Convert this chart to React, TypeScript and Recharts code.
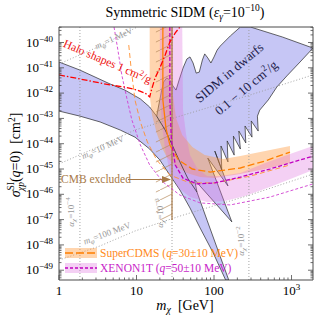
import React from 'react';
import { ComposedChart, Area, Line, XAxis, YAxis } from 'recharts';

type P = [number, number];
// All values are [log10(m_X / GeV), log10(sigma / cm^2)]

const dwarfRegion: P[] = [
  [0, -40.77], [0.27, -41.09], [0.66, -41.64], [0.85, -41.88], [1.05, -42.23], [1.17, -42.55], [1.26, -42.91],
  [1.29, -42.43], [1.32, -41.96], [1.35, -41.56], [1.39, -41.4], [1.43, -41.48], [1.47, -41.72], [1.51, -41.88],
  [1.55, -41.48], [1.6, -41.01], [1.65, -40.65], [1.69, -40.57], [1.73, -40.81], [1.77, -41.21], [1.81, -41.17],
  [1.85, -40.69], [1.88, -40.45], [1.92, -40.61], [1.96, -40.81], [2.0, -40.57], [2.04, -40.3], [2.08, -40.14],
  [2.21, -39.74], [2.34, -39.387],
  [2.47, -39.387], [2.88, -39.78], [3.277, -40.22],
  [3.11, -40.77], [2.94, -41.32], [2.81, -41.76], [2.7, -42.27], [2.59, -42.67], [2.56, -42.91],
  [2.57, -43.5], [2.48, -43.1], [2.49, -43.74], [2.4, -43.3], [2.41, -43.97], [2.32, -43.5], [2.34, -44.21],
  [2.25, -43.7], [2.26, -44.45], [2.17, -43.89], [2.18, -44.72], [2.09, -44.09], [2.1, -45.04], [2.01, -44.29],
  [2.18, -45.67], [1.92, -44.57],
  [2.23, -47.09], [1.75, -45.43],
  [1.78, -45.91], [1.91, -47.02], [2.04, -48.12], [2.19, -49.387],
  [2.15, -49.387], [1.99, -48.32], [1.82, -47.33], [1.69, -46.54], [1.56, -45.83], [1.43, -45.24], [1.3, -44.64],
  [1.17, -44.21], [0.98, -43.74], [0.79, -43.46], [0.53, -43.14], [0.27, -42.91], [0, -42.71],
  [0, -40.77],
];

const dwarfInnerEdge: P[] = [
  [1.26, -42.91], [1.37, -43.46], [1.46, -44.05], [1.56, -44.72], [1.66, -45.36], [1.78, -45.91],
];

const superCdmsBand: P[] = [
  [1.17, -39.387], [1.17, -42.08], [1.2, -42.87], [1.26, -43.58], [1.33, -44.17], [1.39, -44.53], [1.52, -44.92],
  [1.65, -45.16], [1.82, -45.32], [2.01, -45.36], [2.34, -45.2], [2.66, -45.0], [2.98, -44.76],
  [2.98, -44.09], [2.66, -44.29], [2.34, -44.49], [2.12, -44.6], [1.88, -44.45], [1.72, -44.13], [1.59, -43.66],
  [1.51, -42.98], [1.47, -42.08], [1.47, -39.387], [1.17, -39.387],
];

const xenonBand: P[] = [
  [1.3, -39.387], [1.3, -42.08], [1.33, -43.26], [1.37, -44.25], [1.43, -45.12], [1.54, -45.75], [1.69, -46.11],
  [1.91, -46.3], [2.14, -46.26], [2.4, -46.07], [2.72, -45.71], [3.05, -45.32], [3.277, -45.04],
  [3.277, -44.09], [2.98, -44.41], [2.66, -44.76], [2.34, -45.16], [2.08, -45.28], [1.91, -45.28], [1.78, -44.96],
  [1.69, -44.45], [1.64, -43.66], [1.6, -42.67], [1.59, -39.387], [1.3, -39.387],
];

const superCdmsCentralSolid: P[] = [[1.34, -39.387], [1.34, -42.27], [1.38, -43.38], [1.43, -44.05]];
const superCdmsCentralDashed: P[] = [
  [1.43, -44.05], [1.54, -44.64], [1.72, -45.0], [1.95, -45.12], [2.34, -44.96], [2.66, -44.68], [2.98, -44.33],
];
const superCdmsOuter: P[] = [
  [0.9, -40.1], [0.93, -41.01], [0.98, -42.27], [1.05, -43.14], [1.14, -43.93], [1.26, -44.64], [1.43, -45.24],
  [1.69, -45.55], [2.01, -45.55], [2.47, -45.28], [2.98, -44.84],
];
const xenonCentral: P[] = [
  [1.43, -39.387], [1.43, -42.27], [1.45, -43.85], [1.5, -44.84], [1.6, -45.36], [1.78, -45.59], [2.01, -45.55],
  [2.34, -45.32], [2.72, -45.0], [3.277, -44.49],
];
const xenonOuter: P[] = [
  [0.71, -39.387], [0.76, -40.3], [0.81, -41.28], [0.88, -42.27], [0.94, -43.06], [1.05, -44.05], [1.17, -44.84],
  [1.34, -45.51], [1.56, -46.03], [1.82, -46.34], [2.21, -46.42], [2.72, -46.11], [3.277, -45.59],
];
const haloShapes: P[] = [
  [0, -41.28], [0.27, -41.44], [0.66, -41.68], [0.85, -41.76], [1.01, -41.88], [1.11, -42.0], [1.17, -42.15],
  [1.2, -41.8], [1.24, -41.4], [1.3, -41.01], [1.37, -40.49], [1.43, -39.98], [1.5, -39.62], [1.56, -39.387],
];
const mPhi1MeV: P[] = [[0, -40.85], [0.53, -40.14], [1.01, -39.387]];
const mPhi10MeV: P[] = [[0, -44.8], [0.53, -44.09], [0.98, -43.46], [1.56, -42.91], [2.46, -42.08], [3.277, -41.28]];
const mPhi100MeV: P[] = [[0, -48.6], [0.53, -48.04], [0.98, -47.45], [1.56, -46.86], [2.46, -46.03], [3.277, -45.2]];
const alphaLinesLogM = [0.27, 1.458, 2.45];
const cmbLogM = 1.458;
const cmbHatchLogM = 1.25;
const cmbBottom = -47.02;

const X_DOMAIN: [number, number] = [0, 3.277];
const Y_DOMAIN: [number, number] = [-49.387, -39.387];
const subDecades = [2, 3, 4, 5, 6, 7, 8, 9];

function withMinor(dMin: number, dMax: number, dom: [number, number]) {
  const out: number[] = [];
  for (let d = dMin; d <= dMax; d++) {
    out.push(d);
    for (const k of subDecades) out.push(d + Math.log10(k));
  }
  return out.filter((v) => v >= dom[0] - 1e-9 && v <= dom[1] + 1e-9);
}
const xTicks = withMinor(0, 3, X_DOMAIN);
const yTicks = withMinor(-50, -40, Y_DOMAIN);

const toData = (pts: P[]) => pts.map(([m, s]) => ({ m, s }));
const vline = (m: number, s0: number, s1: number) => [{ m, s: s0 }, { m, s: s1 }];

const SERIF = "'Liberation Serif', 'Times New Roman', 'DejaVu Serif', serif";
const AX = '#4a4a4a';
const isMajor = (v: number) => Math.abs(v - Math.round(v)) < 1e-6;

const BottomTick = (props: any) => {
  const { x, y, payload } = props;
  const v = payload.value;
  const major = isMajor(v);
  const n = Math.round(v);
  return (
    <g>
      <line x1={x} x2={x} y1={y} y2={y - (major ? 5 : 2.5)} stroke={AX} strokeWidth={0.8} />
      {major && (
        <text x={x} y={y + 15} textAnchor="middle" fontSize={13} fontFamily={SERIF} fill="#000">
          {n < 3 ? String(Math.pow(10, n)) : '10'}
          {n >= 3 && <tspan fontSize={9} dy={-5}>{n}</tspan>}
        </text>
      )}
    </g>
  );
};
const TopTick = (props: any) => {
  const { x, y, payload } = props;
  const major = isMajor(payload.value);
  return <line x1={x} x2={x} y1={y} y2={y + (major ? 5 : 2.5)} stroke={AX} strokeWidth={0.8} />;
};
const LeftTick = (props: any) => {
  const { x, y, payload } = props;
  const v = payload.value;
  const major = isMajor(v);
  return (
    <g>
      <line x1={x} x2={x + (major ? 5 : 2.5)} y1={y} y2={y} stroke={AX} strokeWidth={0.8} />
      {major && (
        <text x={x - 6} y={y + 4} textAnchor="end" fontSize={13} fontFamily={SERIF} fill="#000">
          10<tspan fontSize={9} dy={-5}>{'\u2212' + Math.abs(Math.round(v))}</tspan>
        </text>
      )}
    </g>
  );
};
const RightTick = (props: any) => {
  const { x, y, payload } = props;
  const major = isMajor(payload.value);
  return <line x1={x} x2={x - (major ? 5 : 2.5)} y1={y} y2={y} stroke={AX} strokeWidth={0.8} />;
};

const common = { dataKey: 's', dot: false, activeDot: false, isAnimationActive: false, legendType: 'none' as const, type: 'linear' as const };

export default function App() {
  const gray = '#9a9a9a';
  const brown = '#a87a48';
  return (
    <div style={{ position: 'absolute', left: 0, top: 0, width: 315, height: 320, background: '#fff' }}>
      <svg width={0} height={0} style={{ position: 'absolute' }}>
        <defs>
          <pattern id="cmbHatch" patternUnits="userSpaceOnUse" width={20} height={10}>
            <path d="M0,10 L20,0" stroke="#b48a5c" strokeWidth={0.7} fill="none" />
          </pattern>
        </defs>
      </svg>
      <div style={{ position: 'absolute', left: 0, top: 0 }}>
        <ComposedChart width={315} height={320} margin={{ top: 26, right: 1, bottom: 0, left: 0 }}>
          <XAxis dataKey="m" type="number" domain={X_DOMAIN} allowDataOverflow ticks={xTicks} interval={0}
            height={40} tickSize={0} tickMargin={0} tickLine={false} tick={BottomTick} stroke={AX} />
          <XAxis xAxisId="top" orientation="top" type="number" domain={X_DOMAIN} allowDataOverflow ticks={xTicks}
            interval={0} height={1} tickSize={0} tickMargin={0} tickLine={false} tick={TopTick} stroke={AX} />
          <YAxis type="number" domain={Y_DOMAIN} allowDataOverflow ticks={yTicks} interval={0} width={59}
            tickSize={0} tickMargin={0} tickLine={false} tick={LeftTick} stroke={AX} />
          <YAxis yAxisId="right" orientation="right" type="number" domain={Y_DOMAIN} allowDataOverflow ticks={yTicks}
            interval={0} width={1} tickSize={0} tickMargin={0} tickLine={false} tick={RightTick} stroke={AX} />

          <Area {...common} data={toData(dwarfRegion)} stroke="#262626" strokeWidth={0.7} fill="#c6c6f5" fillOpacity={1} />
          <Line {...common} data={toData(dwarfInnerEdge)} stroke="#262626" strokeWidth={0.7} />

          {alphaLinesLogM.map((m, i) => (
            <Line key={'a' + i} {...common} data={vline(m, Y_DOMAIN[0], Y_DOMAIN[1])} stroke={gray} strokeWidth={0.9} strokeDasharray="1 2" />
          ))}
          <Line {...common} data={toData(mPhi1MeV)} stroke={gray} strokeWidth={0.9} strokeDasharray="1 2" />
          <Line {...common} data={toData(mPhi10MeV)} stroke={gray} strokeWidth={0.9} strokeDasharray="1 2" />
          <Line {...common} data={toData(mPhi100MeV)} stroke={gray} strokeWidth={0.9} strokeDasharray="1 2" />

          <Area {...common} data={toData(superCdmsBand)} stroke="none" fill="#ff9a40" fillOpacity={0.42} />
          <Area {...common} data={toData(xenonBand)} stroke="none" fill="#dd6edd" fillOpacity={0.32} />

          <Area {...common} data={[
            { m: cmbHatchLogM, s: cmbBottom }, { m: cmbLogM, s: cmbBottom }, { m: cmbLogM, s: Y_DOMAIN[1] },
            { m: cmbHatchLogM, s: Y_DOMAIN[1] }, { m: cmbHatchLogM, s: cmbBottom },
          ]} stroke="none" fill="url(#cmbHatch)" fillOpacity={1} />
          <Line {...common} data={vline(cmbLogM, cmbBottom, Y_DOMAIN[1])} stroke={brown} strokeWidth={1.2} />

          <Line {...common} data={toData(superCdmsOuter)} stroke="#ff9030" strokeWidth={0.9} strokeDasharray="5 3" />
          <Line {...common} data={toData(xenonOuter)} stroke="#d040d0" strokeWidth={0.9} strokeDasharray="3 2" />
          <Line {...common} data={toData(superCdmsCentralSolid)} stroke="#ff7f00" strokeWidth={1.3} />
          <Line {...common} data={toData(superCdmsCentralDashed)} stroke="#ff7f00" strokeWidth={1.3} strokeDasharray="7 3" />
          <Line {...common} data={toData(xenonCentral)} stroke="#c000c0" strokeWidth={1.3} strokeDasharray="4 2" />
          <Line {...common} data={toData(haloShapes)} stroke="#ff0000" strokeWidth={1.3} strokeDasharray="6 2 1.5 2" />
        </ComposedChart>
      </div>

      <svg width={315} height={320} style={{ position: 'absolute', left: 0, top: 0, pointerEvents: 'none' }} fontFamily={SERIF}>
        <text x={185} y={17} textAnchor="middle" fontSize={14} fill="#000">
          Symmetric SIDM (<tspan fontStyle="italic">ε</tspan>
          <tspan fontSize={9.5} dy={3} fontStyle="italic">γ</tspan>
          <tspan dy={-3}>=10</tspan>
          <tspan fontSize={9.5} dy={-6}>−10</tspan>
          <tspan dy={6}>)</tspan>
        </text>
        <text x={185} y={310} textAnchor="middle" fontSize={14} fill="#000">
          <tspan fontStyle="italic">m</tspan>
          <tspan fontSize={10} dy={3} fontStyle="italic">χ</tspan>
          <tspan dy={-3}>{'\u00a0\u00a0[GeV]'}</tspan>
        </text>
        <text transform="translate(20,155) rotate(-90)" textAnchor="middle" fontSize={14} fill="#000">
          <tspan fontStyle="italic">σ</tspan>
          <tspan fontSize={9.5} dy={-6}>SI</tspan>
          <tspan fontSize={9.5} dx={-9} dy={10} fontStyle="italic">χp</tspan>
          <tspan dy={-4}>(</tspan><tspan fontStyle="italic">q</tspan><tspan>=0)</tspan>
          <tspan>{'\u00a0\u00a0[cm'}</tspan>
          <tspan fontSize={9.5} dy={-5}>2</tspan>
          <tspan dy={5}>]</tspan>
        </text>

        <text transform="translate(106,65) rotate(23)" textAnchor="middle" fontSize={11.5} fill="#ee1111">
          Halo shapes 1 cm<tspan fontSize={8} dy={-4}>2</tspan><tspan dy={4}>/g</tspan>
        </text>
        <text transform="translate(232,76) rotate(-40)" textAnchor="middle" fontSize={13} fill="#1c1c4a">SIDM in dwarfs</text>
        <text transform="translate(249,91) rotate(-40)" textAnchor="middle" fontSize={13} fill="#1c1c4a">
          0.1 − 10 cm<tspan fontSize={9} dy={-5}>2</tspan><tspan dy={5}>/g</tspan>
        </text>

        <text transform="translate(115,41) rotate(-25)" textAnchor="middle" fontSize={9} fill={gray}>
          <tspan fontStyle="italic">m</tspan><tspan fontSize={7} dy={2} fontStyle="italic">φ</tspan><tspan dy={-2}>=1 MeV</tspan>
        </text>
        <text transform="translate(104,150) rotate(-24)" textAnchor="middle" fontSize={9} fill={gray}>
          <tspan fontStyle="italic">m</tspan><tspan fontSize={7} dy={2} fontStyle="italic">φ</tspan><tspan dy={-2}>=10 MeV</tspan>
        </text>
        <text transform="translate(108,236) rotate(-20)" textAnchor="middle" fontSize={9} fill={gray}>
          <tspan fontStyle="italic">m</tspan><tspan fontSize={7} dy={2} fontStyle="italic">φ</tspan><tspan dy={-2}>=100 MeV</tspan>
        </text>

        <text transform="translate(74,212) rotate(-90)" textAnchor="middle" fontSize={9} fill={gray}>
          <tspan fontStyle="italic">α</tspan><tspan fontSize={7} dy={2} fontStyle="italic">χ</tspan><tspan dy={-2}>=10</tspan><tspan fontSize={7} dy={-4}>−4</tspan>
        </text>
        <text transform="translate(163,213) rotate(-90)" textAnchor="middle" fontSize={9} fill={gray}>
          <tspan fontStyle="italic">α</tspan><tspan fontSize={7} dy={2} fontStyle="italic">χ</tspan><tspan dy={-2}>=10</tspan><tspan fontSize={7} dy={-4}>−3</tspan>
        </text>
        <text transform="translate(244,241) rotate(-90)" textAnchor="middle" fontSize={9} fill={gray}>
          <tspan fontStyle="italic">α</tspan><tspan fontSize={7} dy={2} fontStyle="italic">χ</tspan><tspan dy={-2}>=10</tspan><tspan fontSize={7} dy={-4}>−2</tspan>
        </text>

        <text x={96} y={183} textAnchor="middle" fontSize={11.5} fill={brown}>CMB excluded</text>
        <line x1={128} x2={164} y1={179.5} y2={179.5} stroke={brown} strokeWidth={1.2} />
        <polygon points="171,179.5 162,176 162,183" fill={brown} />

        <rect x={65} y={248} width={32} height={10} fill="#ff9a40" fillOpacity={0.42} />
        <line x1={65} x2={97} y1={253} y2={253} stroke="#ff7f00" strokeWidth={1.3} strokeDasharray="8 3" />
        <text x={100} y={256.5} fontSize={11.5} fill="#ff8a1a">
          SuperCDMS (<tspan fontStyle="italic">q</tspan>=30±10 MeV)
        </text>
        <rect x={65} y={263} width={32} height={10} fill="#dd6edd" fillOpacity={0.32} />
        <line x1={65} x2={97} y1={268} y2={268} stroke="#c000c0" strokeWidth={1.3} strokeDasharray="3 2" />
        <text x={100} y={271.5} fontSize={11.5} fill="#c81ec8">
          XENON1T (<tspan fontStyle="italic">q</tspan>=50±10 MeV)
        </text>
      </svg>
    </div>
  );
}
